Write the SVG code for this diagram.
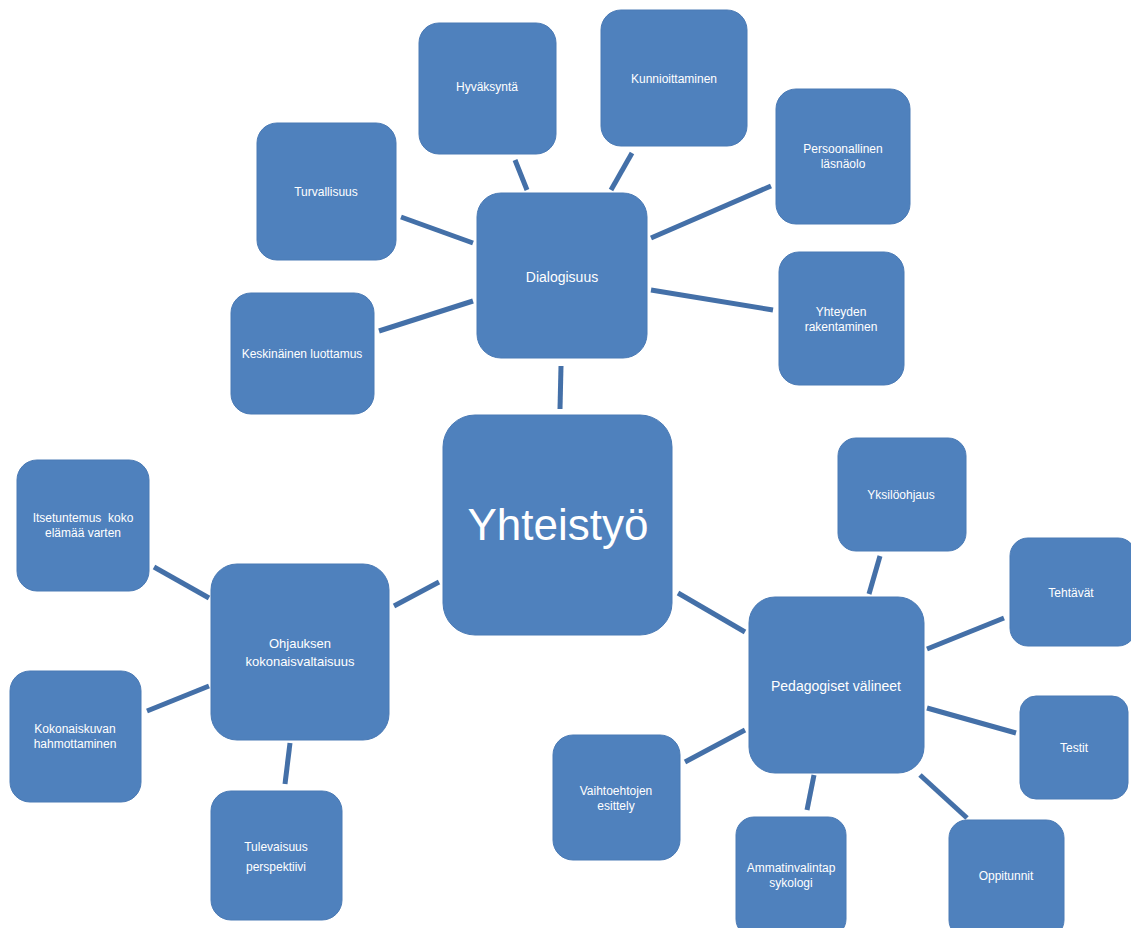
<svg xmlns="http://www.w3.org/2000/svg" width="1131" height="928" viewBox="0 0 1131 928">
<style>
.n rect{fill:#4f81bd;stroke:#4a7ab5;stroke-width:1}
.n text{fill:#ffffff;font-family:"Liberation Sans",Arial,sans-serif;text-anchor:middle;font-size:12px}
.m text{font-size:14px}
.c line{stroke:#4470a8;stroke-width:5}
</style>
<rect width="1131" height="928" fill="#ffffff"/>
<g id="connectors" class="c">
<line x1="561" y1="366" x2="560" y2="409"/>
<line x1="401" y1="217" x2="473" y2="243"/>
<line x1="515" y1="160" x2="527" y2="190"/>
<line x1="632" y1="153" x2="611" y2="190"/>
<line x1="771" y1="186" x2="651" y2="238"/>
<line x1="651" y1="290" x2="773" y2="310"/>
<line x1="379" y1="331" x2="473" y2="301"/>
<line x1="394" y1="606" x2="439" y2="582"/>
<line x1="154" y1="567" x2="209" y2="598"/>
<line x1="147" y1="711" x2="209" y2="686"/>
<line x1="290" y1="743" x2="285" y2="784"/>
<line x1="678" y1="593" x2="745" y2="632"/>
<line x1="880" y1="556" x2="869" y2="594"/>
<line x1="927" y1="649" x2="1004" y2="618"/>
<line x1="927" y1="708" x2="1016" y2="733"/>
<line x1="685" y1="762" x2="745" y2="730"/>
<line x1="814" y1="775" x2="807" y2="810"/>
<line x1="920" y1="775" x2="967" y2="818"/>
</g>
<g id="turvallisuus" class="n"><rect x="257" y="123" width="139" height="137" rx="20"/><text x="326" y="196">Turvallisuus</text></g>
<g id="hyvaksynta" class="n"><rect x="419" y="23" width="137" height="131" rx="20"/><text x="487" y="91">Hyväksyntä</text></g>
<g id="kunnioittaminen" class="n"><rect x="601" y="10" width="146" height="136" rx="20"/><text x="674" y="83">Kunnioittaminen</text></g>
<g id="persoonallinen" class="n"><rect x="776" y="89" width="134" height="135" rx="20"/><text x="843" y="153">Persoonallinen</text><text x="843" y="168">läsnäolo</text></g>
<g id="yhteyden" class="n"><rect x="779" y="252" width="125" height="133" rx="20"/><text x="841" y="316">Yhteyden</text><text x="841" y="331">rakentaminen</text></g>
<g id="keskinainen" class="n"><rect x="231" y="293" width="143" height="121" rx="20"/><text x="302" y="358">Keskinäinen luottamus</text></g>
<g id="dialogisuus" class="n m"><rect x="477" y="193" width="170" height="165" rx="24"/><text x="562" y="282">Dialogisuus</text></g>
<g id="yhteistyo" class="n"><rect x="443" y="415" width="229" height="220" rx="32"/><text x="558" y="540" style="font-size:44px">Yhteistyö</text></g>
<g id="ohjauksen" class="n"><rect x="211" y="564" width="178" height="176" rx="26"/><text x="300" y="648" style="font-size:13px">Ohjauksen</text><text x="300" y="666" style="font-size:13px">kokonaisvaltaisuus</text></g>
<g id="itsetuntemus" class="n"><rect x="17" y="460" width="132" height="131" rx="20"/><text x="83" y="522" style="white-space:pre">Itsetuntemus  koko</text><text x="83" y="537">elämää varten</text></g>
<g id="kokonaiskuvan" class="n"><rect x="10" y="671" width="131" height="131" rx="20"/><text x="75" y="733">Kokonaiskuvan</text><text x="75" y="748">hahmottaminen</text></g>
<g id="tulevaisuus" class="n"><rect x="211" y="791" width="131" height="129" rx="20"/><text x="276" y="851">Tulevaisuus</text><text x="276" y="871">perspektiivi</text></g>
<g id="pedagogiset" class="n m"><rect x="749" y="597" width="175" height="176" rx="26"/><text x="836" y="691">Pedagogiset välineet</text></g>
<g id="yksiloohjaus" class="n"><rect x="838" y="438" width="128" height="113" rx="18"/><text x="901" y="499">Yksilöohjaus</text></g>
<g id="tehtavat" class="n"><rect x="1010" y="538" width="126" height="108" rx="18"/><text x="1071" y="597">Tehtävät</text></g>
<g id="testit" class="n"><rect x="1020" y="696" width="108" height="103" rx="16"/><text x="1074" y="752">Testit</text></g>
<g id="vaihtoehtojen" class="n"><rect x="553" y="735" width="127" height="125" rx="20"/><text x="616" y="795">Vaihtoehtojen</text><text x="616" y="810">esittely</text></g>
<g id="ammatinvalinta" class="n"><rect x="736" y="817" width="110" height="120" rx="18"/><text x="791" y="872">Ammatinvalintap</text><text x="791" y="887">sykologi</text></g>
<g id="oppitunnit" class="n"><rect x="949" y="820" width="115" height="118" rx="18"/><text x="1006" y="880">Oppitunnit</text></g>
</svg>
